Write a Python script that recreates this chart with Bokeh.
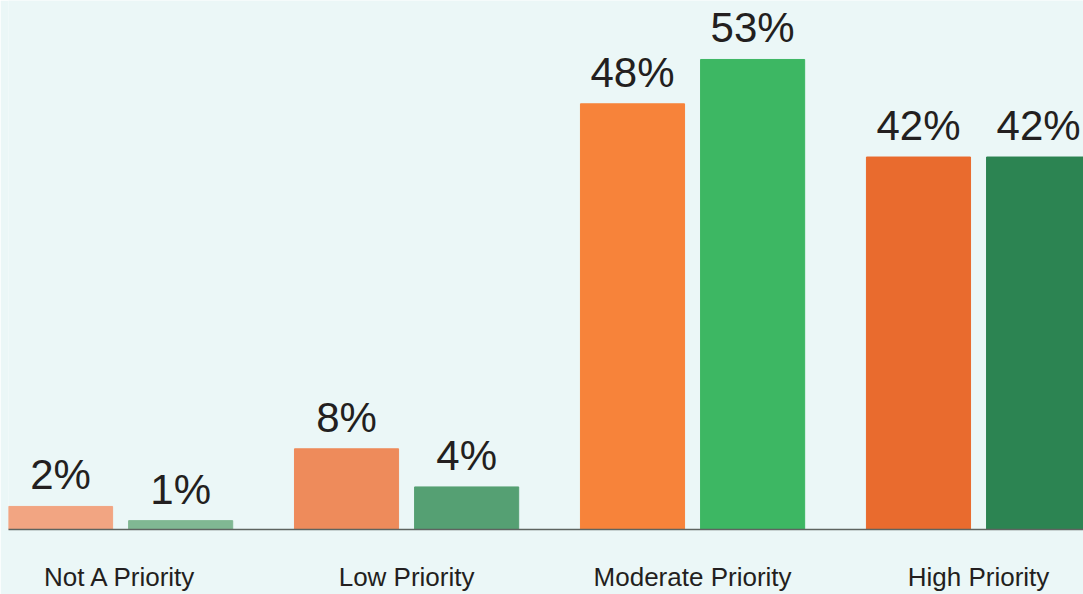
from bokeh.plotting import figure
from bokeh.models import ColumnDataSource, Range1d, FixedTicker, LinearAxis
from bokeh.core.properties import value
from bokeh.embed import file_html
from bokeh.resources import INLINE

categories = ["Not A Priority", "Low Priority", "Moderate Priority", "High Priority"]
orange_values = [2.6, 9.1, 48.0, 42.0]
green_values = [1.0, 4.8, 53.0, 42.0]
orange_labels = ["2%", "8%", "48%", "42%"]
green_labels = ["1%", "4%", "53%", "42%"]
orange_colors = ["#F2A582", "#EE8B5B", "#F7833A", "#E96B2E"]
green_colors = ["#80B893", "#55A073", "#3DB763", "#2C8452"]

BG = "#EBF7F7"
TXT = "#231F20"
FONT = "Liberation Sans"

idx = list(range(len(categories)))
off = 0.21
bw = 0.364

src_o = ColumnDataSource(dict(x=[i - off for i in idx], top=orange_values,
                              label=orange_labels, color=orange_colors))
src_g = ColumnDataSource(dict(x=[i + off for i in idx], top=green_values,
                              label=green_labels, color=green_colors))

p = figure(width=1083, height=594, output_backend="svg", toolbar_location=None,
           x_range=Range1d(-0.392, 3.367), y_range=Range1d(0, 59.65),
           x_axis_location=None, y_axis_location=None,
           min_border_left=8, min_border_right=0, min_border_top=0,
           min_border_bottom=65)
p.background_fill_color = BG
p.border_fill_color = BG
p.outline_line_color = None
p.grid.grid_line_color = None

p.vbar(x="x", top="top", width=bw, bottom=0, color="color", source=src_o)
p.vbar(x="x", top="top", width=bw, bottom=0, color="color", source=src_g)

for s in (src_o, src_g):
    p.text(x="x", y="top", text="label", source=s, text_align="center",
           text_baseline="bottom", y_offset=-8, text_font=value(FONT),
           text_font_size="42px", text_color=TXT)

ax = LinearAxis(ticker=FixedTicker(ticks=idx),
                major_label_overrides={i: c for i, c in zip(idx, categories)})
ax.axis_line_color = "#5E6460"
ax.axis_line_width = 1.5
ax.major_tick_line_color = None
ax.minor_tick_line_color = None
ax.major_label_standoff = 26
ax.major_label_text_font = FONT
ax.major_label_text_font_size = "26px"
ax.major_label_text_color = TXT
p.add_layout(ax, "below")

open("out.html", "w").write(file_html(p, INLINE))
